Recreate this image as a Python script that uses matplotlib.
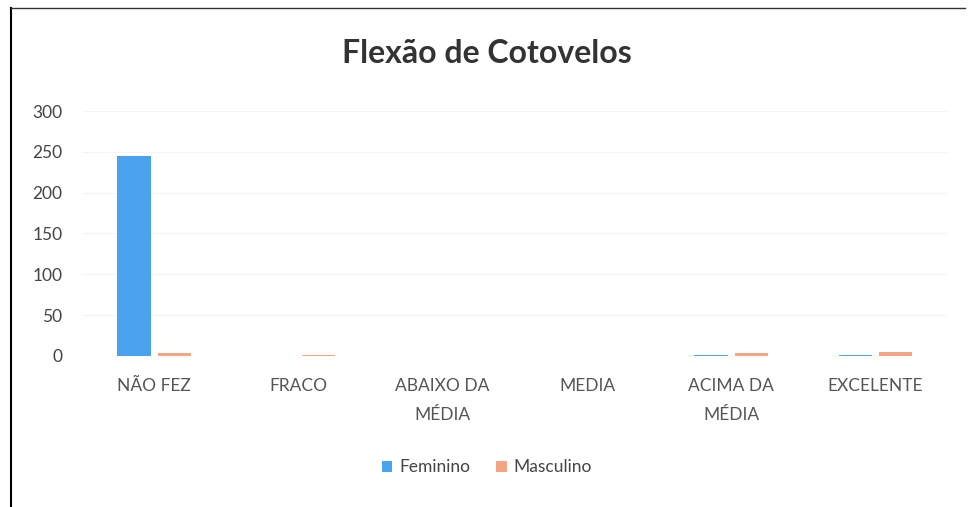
import numpy as np
import matplotlib
matplotlib.use('Agg')
import matplotlib.pyplot as plt
from matplotlib.lines import Line2D

plt.rcParams['font.family'] = ['Lato', 'DejaVu Sans']

categories = ['NÃO FEZ', 'FRACO', 'ABAIXO DA\nMÉDIA', 'MEDIA', 'ACIMA DA\nMÉDIA', 'EXCELENTE']
feminino = [245, 0, 0, 0, 1, 1]
masculino = [4, 1, 0, 0, 3, 5]
yticks = [0, 50, 100, 150, 200, 250, 300]

fig = plt.figure(figsize=(9.7, 5.07), dpi=100)
ax = fig.add_axes([0.0845, 0.298, 0.8925, 0.483])

x = np.arange(len(categories))
w = 0.23
ax.bar(x - 0.14, feminino, w, color='#4BA3EE', label='Feminino')
ax.bar(x + 0.14, masculino, w, color='#F4A582', label='Masculino')

ax.set_xlim(-0.5, len(categories) - 0.5)
ax.set_ylim(0, 300)
ax.set_yticks(yticks)
ax.set_xticks(x)
ax.set_xticklabels(categories, fontsize=12.5, color='#555555', linespacing=2.0)
ax.tick_params(axis='y', labelsize=12.5, labelcolor='#444444', length=0, pad=14)
ax.tick_params(axis='x', length=0, pad=16)
ax.grid(axis='y', color='#f4f4f4', linewidth=0.8)
ax.set_axisbelow(True)
for s in ax.spines.values():
    s.set_visible(False)

fig.text(0.502, 0.895, 'Flexão de Cotovelos', ha='center', va='center',
         fontsize=23, fontweight='bold', color='#333333')

fig.legend(loc='center', bbox_to_anchor=(0.502, 0.078), ncol=2, frameon=False,
           fontsize=12.5, handlelength=0.6, handleheight=0.6, columnspacing=1.5,
           handletextpad=0.4, labelcolor='#444444')

# scanned frame: left and top lines
fig.add_artist(Line2D([0.011, 0.011], [0.0, 0.985], color='black', lw=1.5))
fig.add_artist(Line2D([0.011, 0.995], [0.985, 0.985], color='#333333', lw=1.0))

fig.savefig('out.png', dpi=100, facecolor='white')
